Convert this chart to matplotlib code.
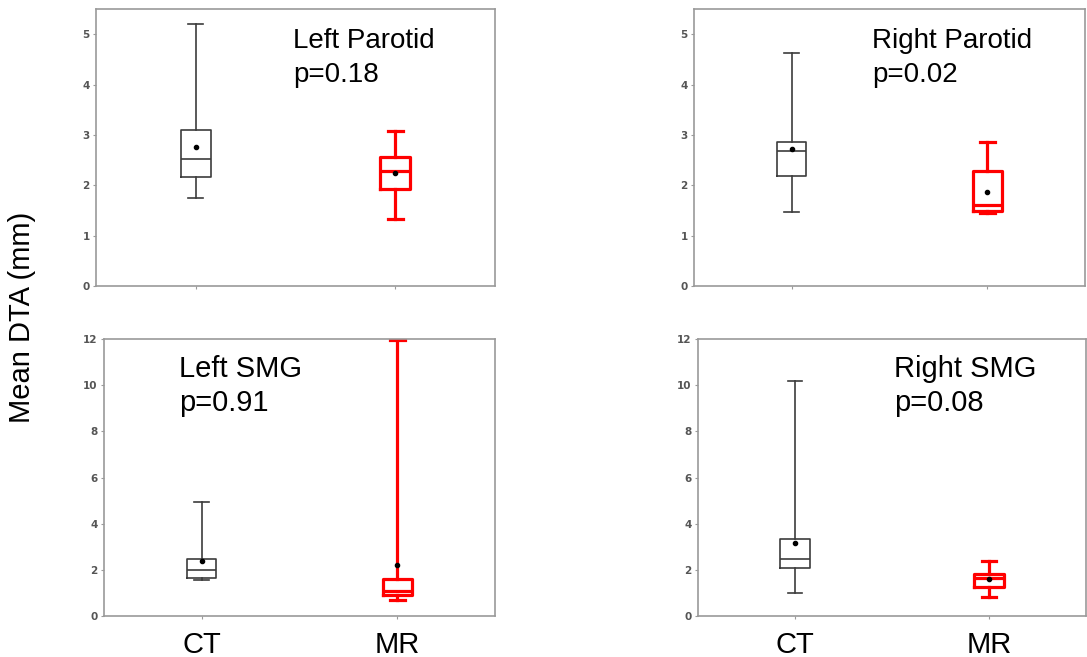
import matplotlib
matplotlib.use("Agg")
import matplotlib.pyplot as plt

# Summary statistics of mean DTA (mm) per structure: [CT, MR]
groups = ["CT", "MR"]
structures = ["Left Parotid", "Right Parotid", "Left SMG", "Right SMG"]
p_values = ["p=0.18", "p=0.02", "p=0.91", "p=0.08"]

whisker_low = {
    "Left Parotid": [1.75, 1.33],
    "Right Parotid": [1.47, 1.45],
    "Left SMG": [1.56, 0.69],
    "Right SMG": [0.98, 0.84],
}
q1 = {
    "Left Parotid": [2.17, 1.92],
    "Right Parotid": [2.19, 1.49],
    "Left SMG": [1.66, 0.93],
    "Right SMG": [2.07, 1.27],
}
median = {
    "Left Parotid": [2.52, 2.29],
    "Right Parotid": [2.69, 1.60],
    "Left SMG": [2.00, 1.07],
    "Right SMG": [2.46, 1.63],
}
q3 = {
    "Left Parotid": [3.09, 2.56],
    "Right Parotid": [2.86, 2.29],
    "Left SMG": [2.46, 1.59],
    "Right SMG": [3.34, 1.81],
}
whisker_high = {
    "Left Parotid": [5.20, 3.07],
    "Right Parotid": [4.62, 2.85],
    "Left SMG": [4.92, 11.95],
    "Right SMG": [10.16, 2.37],
}
mean = {
    "Left Parotid": [2.76, 2.25],
    "Right Parotid": [2.73, 1.87],
    "Left SMG": [2.40, 2.21],
    "Right SMG": [3.18, 1.59],
}

y_limits = {"Left Parotid": 5.5, "Right Parotid": 5.5, "Left SMG": 12, "Right SMG": 12}
y_ticks = {
    "Left Parotid": [0, 1, 2, 3, 4, 5],
    "Right Parotid": [0, 1, 2, 3, 4, 5],
    "Left SMG": [0, 2, 4, 6, 8, 10, 12],
    "Right SMG": [0, 2, 4, 6, 8, 10, 12],
}

W, H = 1087, 657
fig = plt.figure(figsize=(W / 100, H / 100), dpi=100)

# axes rectangles in pixels: left, top, right, bottom
rects = {
    "Left Parotid": (96, 9, 495, 286),
    "Right Parotid": (694, 9, 1085, 286),
    "Left SMG": (104, 339, 495, 616),
    "Right SMG": (698, 339, 1086, 616),
}
text_x = {"Left Parotid": 0.494, "Right Parotid": 0.455, "Left SMG": 0.192, "Right SMG": 0.505}
text_y = {"Left Parotid": (0.859, 0.737), "Right Parotid": (0.859, 0.737),
          "Left SMG": (0.863, 0.740), "Right SMG": (0.863, 0.740)}
title_size = {"Left Parotid": 20, "Right Parotid": 20, "Left SMG": 21, "Right SMG": 21}

group_colors = ["#3c3c3c", "#ff0000"]
group_lw = [1.2, 2.3]
spine_color = "#9a9a9a"
tick_color = "#555555"

for idx, name in enumerate(structures):
    l, t, r, b = rects[name]
    ax = fig.add_axes([l / W, (H - b) / H, (r - l) / W, (b - t) / H])

    for g in range(2):
        stats = [{
            "med": median[name][g],
            "q1": q1[name][g],
            "q3": q3[name][g],
            "whislo": whisker_low[name][g],
            "whishi": whisker_high[name][g],
            "mean": mean[name][g],
            "fliers": [],
        }]
        c = group_colors[g]
        lw = group_lw[g]
        ax.bxp(
            stats,
            positions=[g + 1],
            widths=0.15,
            showmeans=True,
            boxprops=dict(color=c, linewidth=lw),
            whiskerprops=dict(color=c, linewidth=lw),
            capprops=dict(color=c, linewidth=lw),
            medianprops=dict(color=c, linewidth=lw),
            meanprops=dict(marker="o", markerfacecolor="black", markeredgecolor="black",
                           markersize=3),
            manage_ticks=False,
        )

    ax.set_xlim(0.5, 2.5)
    ax.set_ylim(0, y_limits[name])
    ax.set_yticks(y_ticks[name])
    ax.set_xticks([1, 2])
    if idx >= 2:
        ax.set_xticklabels(groups, fontsize=21, family="Liberation Sans", color="black")
        ax.tick_params(axis="x", pad=8)
    else:
        ax.set_xticklabels([])

    for lab in ax.get_yticklabels():
        lab.set_fontsize(7.5)
        lab.set_fontweight("bold")
        lab.set_color(tick_color)
        lab.set_family("DejaVu Sans")
    ax.tick_params(axis="both", length=2.5, width=0.8, color=spine_color)
    ax.tick_params(axis="y", pad=2)

    for s in ax.spines.values():
        s.set_color(spine_color)
        s.set_linewidth(1.2)

    ax.text(text_x[name], text_y[name][0], name, transform=ax.transAxes,
            fontsize=title_size[name], family="Liberation Sans", va="baseline", ha="left")
    ax.text(text_x[name], text_y[name][1], p_values[idx], transform=ax.transAxes,
            fontsize=title_size[name], family="Liberation Sans", va="baseline", ha="left")

fig.text(22 / W, (H - 317) / H, "Mean DTA (mm)", rotation=90, fontsize=21,
         family="Liberation Sans", ha="center", va="center")

fig.savefig("out.png", dpi=100)
